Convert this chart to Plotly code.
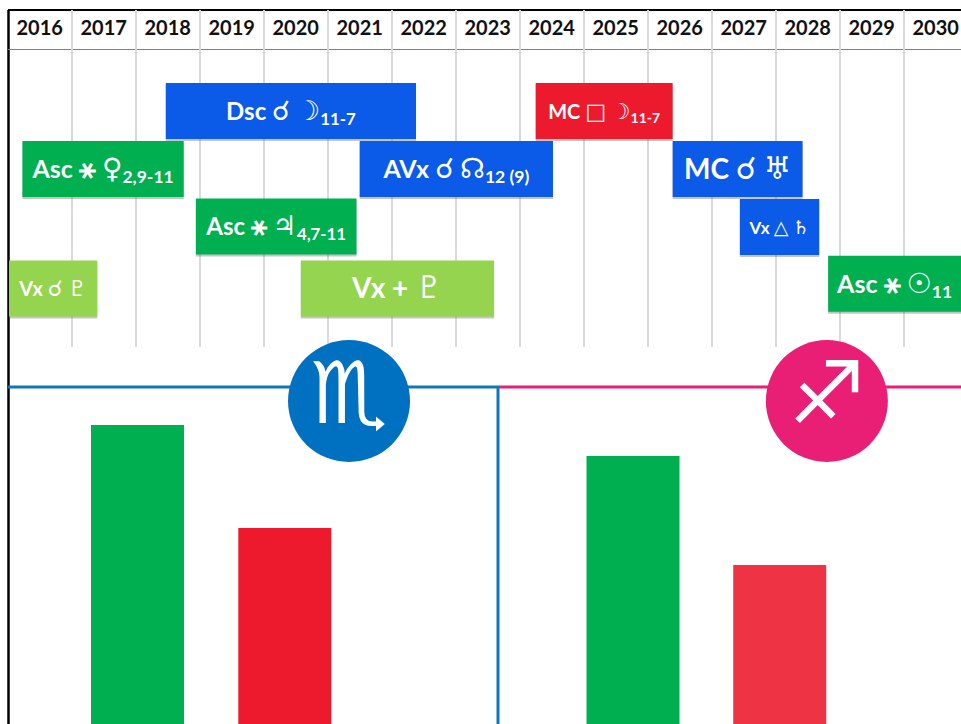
import plotly.graph_objects as go

# ---- data ----
years = list(range(2016, 2031))

transit_labels = [
    "Dsc ☌ ☽<sub>11-7</sub>", "MC □ ☽<sub>11-7</sub>",
    "Asc ⚹ ♀<sub>2,9-11</sub>", "AVx ☌ ☊<sub>12 (9)</sub>", "MC ☌ ♅",
    "Asc ⚹ ♃<sub>4,7-11</sub>", "Vx △ ♄",
    "Vx ☌ ♇", "Vx + ♇", "Asc ⚹ ☉<sub>11</sub>",
]
transit_start = [2018.47, 2024.25, 2016.23, 2021.50, 2026.39, 2018.94, 2027.44, 2016.02, 2020.58, 2028.82]
transit_end = [2022.38, 2026.39, 2018.75, 2024.52, 2028.42, 2021.45, 2028.68, 2017.40, 2023.60, 2031.00]
transit_row = [1.0, 1.0, 2.0, 2.0, 2.0, 2.99, 3.0, 4.06, 4.06, 3.98]
transit_kind = ["blue", "red", "green", "blue", "blue", "green", "blue", "lime", "lime", "green"]
label_size = [24, 20, 25, 25, 28, 24, 17, 20, 28, 25]

bar_slot = [1, 2, 4.364, 5.36]
bar_value = [299, 196, 268, 159]
bar_color = ["#00B050", "#ED1A2D", "#00B050", "#EE3344"]

sign_glyph = ["♏", "♐"]
sign_slot = [2.436, 5.68]
sign_level = [323, 323]
sign_color = ["#0070C0", "#E91E75"]

# ---- layout helpers ----
W, H = 961, 724
KIND = {"blue": "#0B5AE8", "red": "#ED1A2D", "green": "#00B050", "lime": "#95D44F"}
FONT = "Lato, 'DejaVu Sans', sans-serif"
GLYPHS = "☌☽□⚹♀☊♅♃△♄♇☉"
year_px = 64.0
x0_year = 2016 - 7.7 / year_px
x1_year = 2016 + (W - 7.7) / year_px
row_top = 1 - 101 / 58
row_bot = 1 + 236 / 58
header_row = 1 - 81 / 58
label_shift = 0.05
slot_px = 147.3
slot0 = 1 - 137.5 / slot_px


def px(v):
    return v / W


def py(v):
    return 1 - v / H


def styled(label, size):
    out = ""
    for ch in label:
        if ch in GLYPHS:
            out += (f"<span style=\"font-family:'DejaVu Sans';font-weight:bold;"
                    f"font-size:{round(size * 1.12)}px\">{ch}</span>")
        else:
            out += ch
    return out


fig = go.Figure()

# transit bars, with a soft shadow
starts = transit_start
widths = [e - s for s, e in zip(transit_start, transit_end)]
fig.add_trace(go.Bar(
    orientation="h", y=[r + 0.035 for r in transit_row], base=starts, x=widths, width=56 / 58,
    marker=dict(color="rgba(90,90,90,0.35)", line_width=0), hoverinfo="skip", xaxis="x", yaxis="y",
))
fig.add_trace(go.Bar(
    orientation="h", y=transit_row, base=starts, x=widths, width=56 / 58,
    marker=dict(color=[KIND[k] for k in transit_kind], line_width=0),
    xaxis="x", yaxis="y",
))
# transit labels: centred on the visible part of each bar
centres = [(s + min(e, x1_year)) / 2 for s, e in zip(transit_start, transit_end)]
fig.add_trace(go.Scatter(
    x=centres, y=[r + label_shift for r in transit_row], mode="text",
    text=[styled(l, s) for l, s in zip(transit_labels, label_size)],
    textposition="middle center", cliponaxis=False,
    textfont=dict(family=FONT, color="white", size=label_size, weight=700),
    xaxis="x", yaxis="y",
))

# year header
fig.add_trace(go.Scatter(
    x=[y + 0.5 for y in years], y=[header_row] * len(years), mode="text",
    text=[str(y) for y in years],
    textfont=dict(family=FONT, size=20, color="#111111", weight=700),
    textposition="middle center", xaxis="x", yaxis="y", cliponaxis=False,
))

# lower bars
for s, v, c in zip(bar_slot, bar_value, bar_color):
    fig.add_trace(go.Bar(
        x=[s], y=[v], width=93 / slot_px, marker=dict(color=c, line_width=0), xaxis="x2", yaxis="y2",
    ))

# sign badges
fig.add_trace(go.Scatter(
    x=sign_slot, y=sign_level, mode="markers+text", text=sign_glyph,
    marker=dict(size=122, color=sign_color, line_width=0),
    textfont=dict(family="'DejaVu Sans'", size=86, color="white", weight=700),
    textposition="middle center", cliponaxis=False, xaxis="x2", yaxis="y2",
))

line = lambda x0, y0, x1, y1, c, w: dict(
    type="line", xref="paper", yref="paper", x0=px(x0), y0=py(y0), x1=px(x1), y1=py(y1),
    line=dict(color=c, width=w), layer="below")

fig.update_layout(
    width=W, height=H, margin=dict(l=0, r=0, t=0, b=0, pad=0),
    paper_bgcolor="white", plot_bgcolor="rgba(0,0,0,0)",
    showlegend=False, barmode="overlay",
    font=dict(family=FONT),
    xaxis=dict(domain=[0, 1], range=[x0_year, x1_year], tickvals=years[1:], showticklabels=False,
               ticks="", showgrid=True, gridcolor="#DADADA", gridwidth=1.5, zeroline=False,
               showline=False, anchor="y", layer="below traces"),
    yaxis=dict(domain=[py(347), py(10)], range=[row_bot, row_top], showgrid=False, showticklabels=False,
               ticks="", zeroline=False, anchor="x"),
    xaxis2=dict(domain=[0, 1], range=[slot0, slot0 + W / slot_px], visible=False, anchor="y2"),
    yaxis2=dict(domain=[0, py(330)], range=[0, 394], visible=False, anchor="x2"),
    shapes=[
        line(8.5, 10, 8.5, 724, "#000000", 2.5),
        line(8, 10, 961, 10, "#000000", 2),
        line(8, 49.5, 961, 49.5, "#7F7F7F", 1.2),
        line(8, 387, 499, 387, "#0F75BD", 3),
        line(498, 387, 498, 724, "#0F75BD", 3),
        line(499, 387, 961, 387, "#E91E75", 3),
    ],
)

fig.write_html("out.html", config={"displayModeBar": False},
               post_script="document.body.style.margin='0';document.body.style.overflow='hidden';")
